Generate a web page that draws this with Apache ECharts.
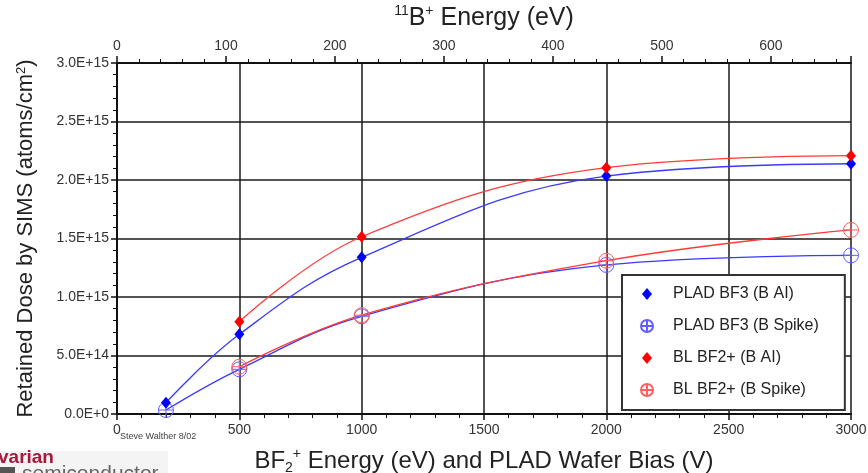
<!DOCTYPE html>
<html>
<head>
<meta charset="utf-8">
<script src="https://cdn.jsdelivr.net/npm/echarts@6/dist/echarts.min.js"></script>
<style>
html,body{margin:0;padding:0;background:#fff;}
#chart{width:868px;height:473px;}
</style>
</head>
<body>
<div id="chart"></div>
<script>
// ---- data ----
const seriesNames = ['PLAD BF3 (B AI)', 'PLAD BF3 (B Spike)', 'BL BF2+ (B AI)', 'BL BF2+ (B Spike)'];
const pladX = [200, 500, 1000, 2000, 3000];
const blX = [500, 1000, 2000, 3000];
const pladAI = [0.097e15, 0.681e15, 1.339e15, 2.034e15, 2.139e15];
const pladSpike = [0.034e15, 0.382e15, 0.835e15, 1.274e15, 1.356e15];
const blAI = [0.789e15, 1.515e15, 2.105e15, 2.208e15];
const blSpike = [0.404e15, 0.845e15, 1.310e15, 1.573e15];
const bottomTicks = [0, 500, 1000, 1500, 2000, 2500, 3000];
const topTicks = [0, 100, 200, 300, 400, 500, 600];
const yTicks = [0, 5e14, 1e15, 1.5e15, 2e15, 2.5e15, 3e15];

const bottomMax = bottomTicks[bottomTicks.length - 1];
const topMax = bottomMax * 11 / 49; // 11B+ energy equivalent of BF2+ energy

function pairs(xs, ys) { return xs.map((x, i) => [x, ys[i]]); }
function sci(v) {
  if (v === 0) return '0.0E+0';
  const e = Math.floor(Math.log10(v) + 1e-9);
  const m = v / Math.pow(10, e);
  return m.toFixed(1) + 'E+' + e;
}

const FONT = '"Liberation Sans", Arial, sans-serif';
const circlePlus = 'path://M0,10A10,10 0 1,1 20,10A10,10 0 1,1 0,10Z M10,0L10,20 M0,10L20,10';
const diamondIcon = 'path://M5,0L10,6L5,12L0,6Z';

const chart = echarts.init(document.getElementById('chart'), null, {renderer: 'canvas'});

const axisLineStyle = {color: '#111', width: 2};
const splitLineStyle = {color: '#1a1a1a', width: 1.5};
function makeRich(size) {
  return {
    n: {fontSize: size, color: '#222', fontFamily: FONT, lineHeight: 28},
    sub: {fontSize: 14, color: '#222', fontFamily: FONT, verticalAlign: 'bottom', lineHeight: 14},
    sup: {fontSize: 14, color: '#222', fontFamily: FONT, verticalAlign: 'top', lineHeight: 14}
  };
}

const option = {
  backgroundColor: '#fff',
  animation: false,
  textStyle: {fontFamily: FONT},
  grid: {left: 117, right: 17, top: 63, bottom: 59, containLabel: false, outerBoundsMode: 'none'},
  legend: {
    orient: 'vertical',
    left: 622, top: 275,
    backgroundColor: '#fff',
    borderColor: '#333', borderWidth: 2, borderRadius: 0,
    padding: [11, 26, 12, 18],
    itemWidth: 24, itemHeight: 12, itemGap: 16,
    textStyle: {fontFamily: FONT, fontSize: 16, lineHeight: 12, color: '#222', padding: [0, 0, 0, 9]},
    data: [
      {name: seriesNames[0], icon: diamondIcon},
      {name: seriesNames[1], icon: circlePlus},
      {name: seriesNames[2], icon: diamondIcon},
      {name: seriesNames[3], icon: circlePlus}
    ]
  },
  xAxis: [
    {
      type: 'value', position: 'bottom', min: 0, max: bottomMax, interval: 500,
      axisLine: {show: true, onZero: false, lineStyle: axisLineStyle},
      axisTick: {show: true, inside: false, length: 6, lineStyle: {color: '#111', width: 1.5}},
      minorTick: {show: true, splitNumber: 5, length: 4, lineStyle: {color: '#111', width: 1}},
      axisLabel: {color: '#333', fontSize: 14, margin: 9, fontFamily: FONT, formatter: v => String(v)},
      splitLine: {show: true, lineStyle: splitLineStyle},
      name: '{n|BF}{sub|2}{sup|+}{n| Energy (eV) and PLAD Wafer Bias (V)}',
      nameLocation: 'middle', nameGap: 33,
      nameTextStyle: {color: '#222', fontFamily: FONT, rich: makeRich(24)}
    },
    {
      type: 'value', position: 'top', min: 0, max: topMax, interval: 100,
      axisLine: {show: true, onZero: false, lineStyle: axisLineStyle},
      axisTick: {show: true, inside: false, length: 7, lineStyle: {color: '#111', width: 1.5}},
      minorTick: {show: true, splitNumber: 5, length: 4, lineStyle: {color: '#111', width: 1}},
      axisLabel: {color: '#333', fontSize: 14, margin: 10, fontFamily: FONT, showMaxLabel: false,
        formatter: v => (Math.abs(v % 100) < 1e-6 ? String(v) : '')},
      splitLine: {show: false},
      name: '{sup|11}{n|B}{sup|+}{n| Energy (eV)}',
      nameLocation: 'middle', nameGap: 31,
      nameTextStyle: {color: '#222', fontFamily: FONT, rich: makeRich(25)}
    }
  ],
  yAxis: {
    type: 'value', min: 0, max: yTicks[yTicks.length - 1], interval: 5e14,
    axisLine: {show: true, onZero: false, lineStyle: axisLineStyle},
    axisTick: {show: true, inside: false, length: 6, lineStyle: {color: '#111', width: 1.5}},
    minorTick: {show: true, splitNumber: 5, length: 4, lineStyle: {color: '#111', width: 1}},
    axisLabel: {color: '#333', fontSize: 14, margin: 8, fontFamily: FONT, formatter: sci},
    splitLine: {show: true, lineStyle: splitLineStyle},
    name: 'Retained Dose by SIMS (atoms/cm{sup|2})',
    nameLocation: 'middle', nameRotate: 90, nameGap: 80,
    nameTextStyle: {
      color: '#222', fontFamily: FONT, fontSize: 22,
      rich: {
        sup: {fontSize: 13, color: '#222', fontFamily: FONT, verticalAlign: 'top', lineHeight: 13}
      }
    }
  },
  series: [
    {
      name: seriesNames[0], type: 'line', xAxisIndex: 0, smooth: 0.4,
      data: pairs(pladX, pladAI),
      symbol: 'diamond', symbolSize: [10, 12],
      itemStyle: {color: '#0000ff'},
      lineStyle: {color: '#3a3aff', width: 1.3},
      z: 5
    },
    {
      name: seriesNames[1], type: 'line', xAxisIndex: 0, smooth: 0.4,
      data: pairs(pladX, pladSpike),
      symbol: circlePlus, symbolSize: 15,
      itemStyle: {color: 'rgba(0,0,0,0)', borderColor: '#5f5fff', borderWidth: 1},
      lineStyle: {color: '#3a3aff', width: 1.3},
      z: 4
    },
    {
      name: seriesNames[2], type: 'line', xAxisIndex: 0, smooth: 0.4,
      data: pairs(blX, blAI),
      symbol: 'diamond', symbolSize: [10, 12],
      itemStyle: {color: '#ff0000'},
      lineStyle: {color: '#ff3a3a', width: 1.3},
      z: 6
    },
    {
      name: seriesNames[3], type: 'line', xAxisIndex: 0, smooth: 0.4,
      data: pairs(blX, blSpike),
      symbol: circlePlus, symbolSize: 15,
      itemStyle: {color: 'rgba(0,0,0,0)', borderColor: '#ff5f5f', borderWidth: 1},
      lineStyle: {color: '#ff3a3a', width: 1.3},
      z: 4
    }
  ],
  graphic: [
    {type: 'text', left: 120, top: 432, style: {text: 'Steve Walther 8/02', font: '9px ' + FONT, fill: '#444'}},
    {type: 'rect', left: 0, top: 451, shape: {width: 168, height: 22}, style: {fill: '#f4f4f4'}, z: -1},
    {type: 'text', left: -2, top: 448, style: {text: 'varian', font: 'bold 19px ' + FONT, fill: '#a8183a'}},
    {type: 'rect', left: 0, top: 467, shape: {width: 15, height: 10}, style: {fill: '#555'}},
    {type: 'text', left: 22, top: 464, style: {text: 'semiconductor', font: '21px ' + FONT, fill: '#666'}}
  ]
};
chart.setOption(option);
</script>
</body>
</html>
